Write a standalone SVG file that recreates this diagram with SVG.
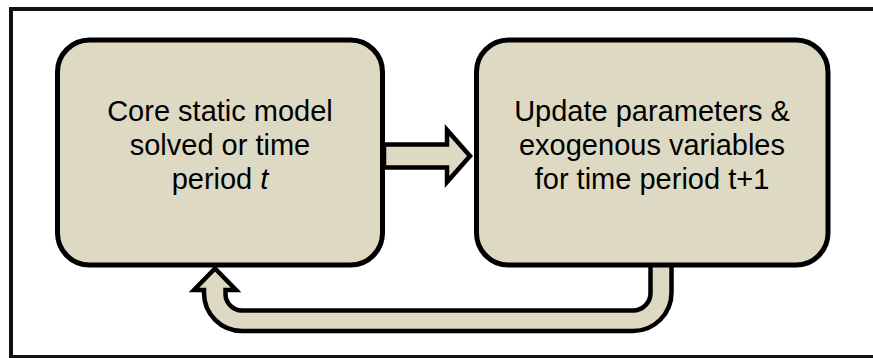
<svg xmlns="http://www.w3.org/2000/svg" width="873" height="358" viewBox="0 0 873 358">
<style>
.frame{fill:#fff;stroke:#111;stroke-width:4}
.box{fill:#DDD9C3;stroke:#000;stroke-width:5}
.conn{fill:#DDD9C3;stroke:#000;stroke-width:4.5;stroke-linejoin:miter}
.lbl{font-family:"Liberation Sans",Arial,sans-serif;font-size:29px;fill:#000;text-anchor:middle}
</style>
<rect class="frame" x="11" y="9" width="864" height="348"/>
<g id="connectors">
<path class="conn" d="M 384 144.5 L 447 144.5 L 447 130 L 470 156 L 447 182 L 447 167.5 L 384 167.5 Z"/>
<path class="conn" d="M 650.5 262 L 650.5 293 A 17.5 17.5 0 0 1 633 310.5 L 242 310.5 A 16.5 16.5 0 0 1 225.5 294 L 225.5 290 L 236 290 L 215 268.5 L 194 290 L 204 290 L 204 293 A 38 38 0 0 0 242 331 L 633 331 A 38.5 38.5 0 0 0 671.5 292.5 L 671.5 262"/>
</g>
<g id="core-model">
<rect class="box" x="57.5" y="40" width="325" height="225" rx="32"/>
<text class="lbl" x="220" y="121">Core static model</text>
<text class="lbl" x="220" y="155">solved or time</text>
<text class="lbl" x="220" y="188.5">period <tspan font-style="italic">t</tspan></text>
</g>
<g id="update-params">
<rect class="box" x="476.5" y="40" width="351.5" height="225" rx="32"/>
<text class="lbl" x="652" y="121">Update parameters &amp;</text>
<text class="lbl" x="652" y="155">exogenous variables</text>
<text class="lbl" x="652" y="188.5">for time period t+1</text>
</g>
</svg>
